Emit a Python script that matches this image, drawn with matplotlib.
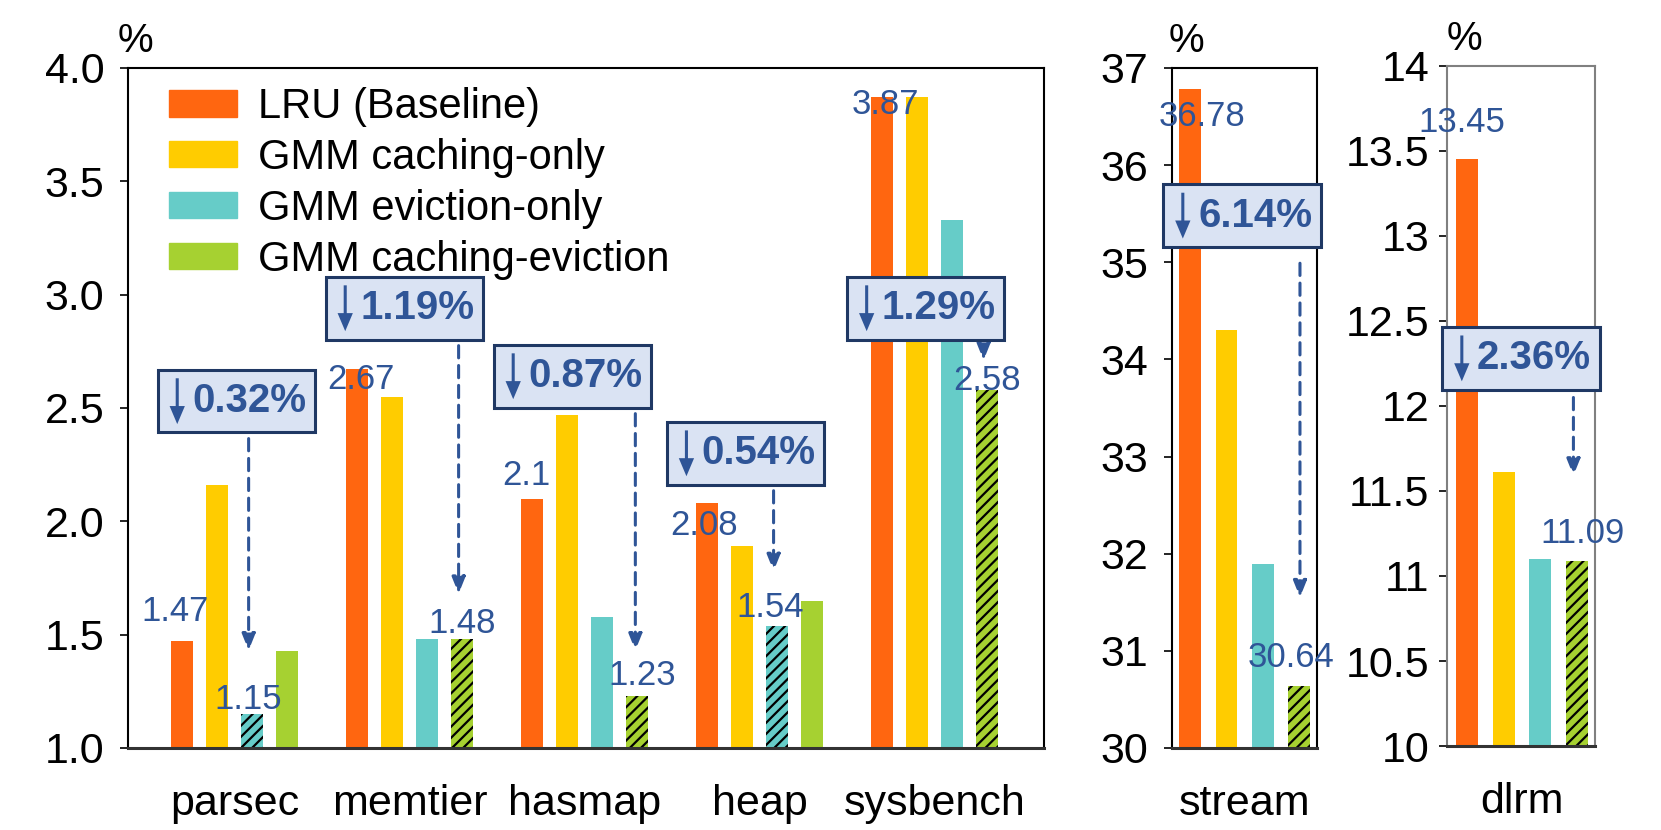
import numpy as np
import matplotlib.pyplot as plt
from matplotlib.patches import Patch, FancyArrow
from matplotlib.offsetbox import AnnotationBbox, HPacker, TextArea, DrawingArea

plt.rcParams['font.family'] = ['Liberation Sans', 'DejaVu Sans']
plt.rcParams['hatch.linewidth'] = 1.6

# data
series = ['LRU (Baseline)', 'GMM caching-only', 'GMM eviction-only', 'GMM caching-eviction']
colors = ['#ff6610', '#ffcc00', '#66ccc8', '#a6d131']

main_groups = ['parsec', 'memtier', 'hasmap', 'heap', 'sysbench']
main_vals = [
    [1.47, 2.67, 2.10, 2.08, 3.87],
    [2.16, 2.55, 2.47, 1.89, 3.87],
    [1.15, 1.48, 1.58, 1.54, 3.33],
    [1.43, 1.48, 1.23, 1.65, 2.58],
]
main_hatch = [2, 3, 3, 2, 3]          # which series is hatched per group
main_drop = ['0.32%', '1.19%', '0.87%', '0.54%', '1.29%']

stream_vals = [36.78, 34.30, 31.89, 30.64]
dlrm_vals = [13.45, 11.61, 11.10, 11.09]

BLUE = '#2f5597'
ARROW = dict(arrowstyle='-|>,head_width=0.4,head_length=1.0', color=BLUE, lw=2.2,
             linestyle=(0, (4, 2.5)), shrinkA=0, shrinkB=0)
TICK_FS = 31
LAB_FS = 25
BOX_FS = 29


def drop_box(a, bx, by, txt):
    # light blue box: thin down arrow + bold percentage
    da = DrawingArea(16, 33, 0, 0)
    da.add_artist(FancyArrow(8, 33, 0, -33, width=2.2, head_width=11, head_length=13,
                             length_includes_head=True, color=BLUE, lw=0))
    ta = TextArea(txt, textprops=dict(color=BLUE, fontsize=BOX_FS, fontweight='bold'))
    pack = HPacker(children=[da, ta], align='center', pad=0, sep=3)
    ab = AnnotationBbox(pack, (bx, by), xycoords='data', frameon=True, pad=0.6,
                        bboxprops=dict(fc='#dae3f3', ec='#1f3864', lw=2.2), zorder=5)
    a.add_artist(ab)


fig = plt.figure(figsize=(16.61, 8.30), dpi=100)
ax = fig.add_axes([0.0771, 0.0988, 0.5515, 0.8193])
ax2 = fig.add_axes([0.7056, 0.0988, 0.0873, 0.8193])
ax3 = fig.add_axes([0.8712, 0.1012, 0.0891, 0.8193])

x = np.arange(len(main_groups))
off = [-0.3, -0.1, 0.1, 0.3]
w = 0.126
for k in range(4):
    for g in range(len(main_groups)):
        hatched = main_hatch[g] == k
        ax.bar(x[g] + off[k], main_vals[k][g] - 1.0, w, bottom=1.0, color=colors[k],
               hatch='///' if hatched else None, edgecolor='black' if hatched else colors[k],
               linewidth=0)

ax.set_xlim(-0.609, 4.626)
ax.set_ylim(1.0, 4.0)
ax.set_yticks([1.0, 1.5, 2.0, 2.5, 3.0, 3.5, 4.0])
ax.set_yticklabels(['1.0', '1.5', '2.0', '2.5', '3.0', '3.5', '4.0'])
ax.set_xticks(x)
ax.set_xticklabels(main_groups)

# value labels: (group, series, text x offset, text y centre, text)
lab = [(0, 0, -0.04, 1.60, '1.47'), (0, 2, -0.02, 1.215, '1.15'),
       (1, 0, 0.02, 2.625, '2.67'), (1, 3, 0.0, 1.55, '1.48'),
       (2, 0, -0.03, 2.20, '2.1'), (2, 3, 0.03, 1.32, '1.23'),
       (3, 0, -0.02, 1.98, '2.08'), (3, 2, -0.04, 1.62, '1.54'),
       (4, 0, 0.02, 3.84, '3.87'), (4, 3, 0.0, 2.62, '2.58')]
for g, k, dx, yc, s in lab:
    ax.text(x[g] + off[k] + dx, yc, s, ha='center', va='center', color=BLUE, fontsize=LAB_FS)

# drop boxes and dashed arrows
box_pos = [(0.01, 2.53), (0.97, 2.94), (1.93, 2.64), (2.92, 2.30), (3.95, 2.94)]
arr = [(0.08, 1.43), (1.28, 1.68), (2.29, 1.43), (3.08, 1.78), (4.28, 2.71)]
for (bx, by), d, (axx, y1) in zip(box_pos, main_drop, arr):
    drop_box(ax, bx, by, d)
    ax.annotate('', xy=(axx, y1), xytext=(axx, by - 0.165), arrowprops=ARROW, zorder=4)

ax.legend(handles=[Patch(color=c, label=s) for c, s in zip(colors, series)],
          loc='upper left', bbox_to_anchor=(0.045, 0.972), borderaxespad=0, borderpad=0,
          frameon=False, fontsize=30, handlelength=1.62, handleheight=0.6,
          handletextpad=0.5, labelspacing=0.26)

# stream
xs = np.arange(4)
for k in range(4):
    ax2.bar(xs[k], stream_vals[k] - 30, 0.6, bottom=30, color=colors[k],
            hatch='///' if k == 3 else None, edgecolor='black' if k == 3 else colors[k], linewidth=0)
ax2.set_xlim(-0.5, 3.5)
ax2.set_ylim(30, 37)
ax2.set_yticks(range(30, 38))
ax2.set_xticks([1.5])
ax2.set_xticklabels(['stream'])
ax2.text(0.33, 36.5, '36.78', ha='center', va='center', color=BLUE, fontsize=LAB_FS)
ax2.text(2.79, 30.93, '30.64', ha='center', va='center', color=BLUE, fontsize=LAB_FS)
drop_box(ax2, 1.43, 35.48, '6.14%')
ax2.annotate('', xy=(3.03, 31.55), xytext=(3.03, 34.99), arrowprops=ARROW, zorder=4)

# dlrm
for k in range(4):
    ax3.bar(xs[k], dlrm_vals[k] - 10, 0.6, bottom=10, color=colors[k],
            hatch='///' if k == 3 else None, edgecolor='black' if k == 3 else colors[k], linewidth=0)
ax3.set_xlim(-0.545, 3.49)
ax3.set_ylim(10, 14)
ax3.set_yticks([10, 10.5, 11, 11.5, 12, 12.5, 13, 13.5, 14])
ax3.set_yticklabels(['10', '10.5', '11', '11.5', '12', '12.5', '13', '13.5', '14'])
ax3.set_xticks([1.5])
ax3.set_xticklabels(['dlrm'])
ax3.text(-0.13, 13.67, '13.45', ha='center', va='center', color=BLUE, fontsize=LAB_FS)
ax3.text(3.15, 11.25, '11.09', ha='center', va='center', color=BLUE, fontsize=LAB_FS)
drop_box(ax3, 1.47, 12.28, '2.36%')
ax3.annotate('', xy=(2.9, 11.59), xytext=(2.9, 12.05), arrowprops=ARROW, zorder=4)

for a, pct_dx, ypad in ((ax, -10, 11), (ax2, -3, 11), (ax3, 0, 7)):
    a.tick_params(axis='y', labelsize=TICK_FS, length=6, width=1.2, direction='out', pad=ypad)
    a.tick_params(axis='x', labelsize=TICK_FS, length=0, pad=26)
    a.annotate('%', xy=(0, 1), xycoords='axes fraction', xytext=(pct_dx * 0.72, 16 * 0.72),
               textcoords='offset points', fontsize=29, ha='left', va='baseline')
    for s in a.spines.values():
        s.set_linewidth(1.5)
    a.spines['bottom'].set_linewidth(2.2)
    a.spines['bottom'].set_color('#333333')

for s in ('left', 'right', 'top'):
    ax3.spines[s].set_color('#808080')

fig.savefig('out.png', dpi=100)
